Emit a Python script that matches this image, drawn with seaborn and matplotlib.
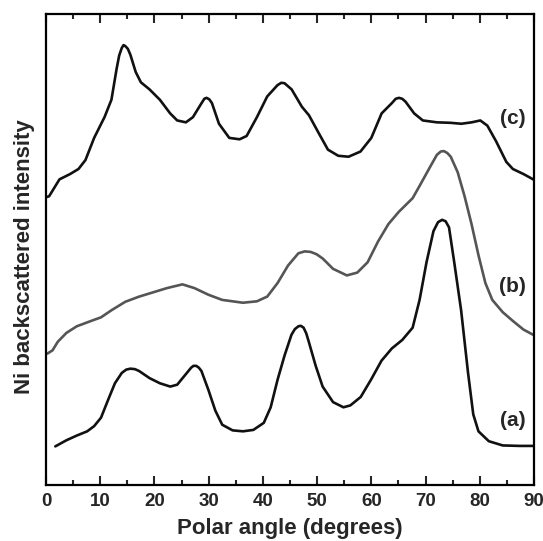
import seaborn as sns
import matplotlib.pyplot as plt
import pandas as pd
from matplotlib.ticker import MultipleLocator

# Curve (a)
angle_a = [1.72, 3.77, 5.68, 7.60, 8.88, 10.15, 11.43, 12.71, 13.98, 14.8, 15.58, 16.4, 17.18,
           19.09, 21.01, 22.92, 24.20, 25.48, 26.76, 27.2, 27.71, 28.2, 28.67, 29.95, 31.23,
           32.50, 34.42, 36.33, 38.25, 40.17, 41.44, 42.72, 44.00, 45.27, 45.9, 46.55, 47.0,
           47.51, 48.0, 48.47, 49.74, 51.02, 52.94, 54.85, 56.13, 58.05, 59.96, 61.88, 63.79,
           65.71, 67.62, 68.90, 70.18, 71.46, 72.3, 73.05, 73.7, 74.33, 75.29, 76.56, 77.84,
           78.80, 79.76, 81.67, 84.23, 87.42, 90.0]
int_a = [8.2, 9.5, 10.5, 11.4, 12.5, 14.3, 18.0, 21.6, 23.8, 24.5, 24.7, 24.6, 24.2,
         22.7, 21.6, 20.9, 21.3, 23.1, 24.9, 25.3, 25.3, 24.9, 24.2, 20.2, 15.8,
         12.8, 11.6, 11.4, 11.7, 13.2, 16.5, 22.4, 27.5, 31.9, 33.1, 33.7, 33.8,
         33.4, 32.2, 30.4, 25.3, 20.9, 17.6, 16.5, 16.9, 18.7, 22.4, 26.4, 29.0,
         30.8, 33.4, 39.3, 47.3, 53.9, 55.8, 56.3, 56.0, 54.7, 47.3, 37.1, 23.8,
         15.0, 11.4, 9.3, 8.4, 8.3, 8.3]

# Curve (b)
angle_b = [0.26, 1.21, 2.17, 3.77, 5.68, 8.24, 10.15, 12.07, 14.62, 17.18, 19.73, 22.29,
           25.16, 27.39, 29.95, 32.50, 36.33, 38.89, 40.80, 42.72, 44.64, 46.55, 47.7, 48.79,
           49.9, 51.02, 52.94, 55.49, 57.41, 59.32, 61.24, 63.15, 65.07, 67.62, 68.90, 70.82,
           72.09, 72.8, 73.37, 74.0, 74.65, 75.93, 77.20, 78.48, 79.76, 81.03, 82.31, 84.23,
           86.14, 88.06, 90.0]
int_b = [27.9, 28.6, 30.4, 32.3, 33.7, 34.8, 35.6, 37.1, 38.9, 40.0, 40.9, 41.8,
         42.6, 41.8, 40.4, 39.3, 38.7, 39.0, 40.0, 42.9, 46.6, 49.2, 49.6, 49.5,
         49.0, 48.1, 45.9, 44.5, 45.1, 47.3, 51.7, 55.4, 58.0, 60.9, 63.5, 67.5,
         70.1, 70.8, 70.9, 70.5, 69.7, 66.4, 61.3, 55.4, 48.8, 42.9, 39.3, 36.7,
         34.8, 33.0, 31.8]

# Curve (c)
angle_c = [0.0, 0.57, 1.53, 2.49, 4.41, 6.0, 7.28, 8.88, 10.79, 12.07, 13.03, 13.5, 13.98,
           14.3, 14.62, 15.1, 15.58, 16.54, 17.5, 19.09, 21.0, 22.9, 24.2, 25.8, 27.1, 28.7,
           29.2, 29.6, 30.1, 30.6, 31.9, 33.8, 35.7, 37.0, 38.9, 40.8, 42.7, 43.4, 44.0,
           45.3, 47.2, 48.5, 50.4, 52.0, 53.9, 55.8, 58.0, 60.0, 61.9, 63.8, 64.5, 65.1,
           65.7, 66.3, 67.9, 69.5, 72.1, 74.6, 76.6, 78.5, 80.1, 81.4, 83.0, 84.9, 86.1,
           88.1, 90.0]
int_c = [61.1, 61.3, 63.1, 64.9, 66.0, 67.1, 69.0, 73.7, 78.1, 81.8, 88.4, 91.2, 92.8,
         93.4, 93.2, 92.6, 91.3, 87.7, 85.5, 84.0, 81.8, 78.9, 77.4, 77.0, 78.1, 81.1,
         82.0, 82.2, 81.9, 81.1, 76.7, 73.7, 73.4, 74.1, 78.1, 82.5, 84.9, 85.4, 85.3,
         84.0, 80.3, 78.5, 74.5, 71.2, 69.9, 69.7, 70.8, 73.7, 78.9, 81.1, 82.0, 82.2,
         82.0, 81.4, 78.9, 77.4, 77.0, 76.9, 76.7, 77.0, 77.4, 76.3, 73.0, 68.6, 67.1,
         66.0, 64.8]

curve_names = ['(a)', '(b)', '(c)']
label_y = [13.6, 42.2, 77.8]

df = pd.concat([
    pd.DataFrame({'angle': angle_a, 'intensity': int_a, 'curve': '(a)'}),
    pd.DataFrame({'angle': angle_b, 'intensity': int_b, 'curve': '(b)'}),
    pd.DataFrame({'angle': angle_c, 'intensity': int_c, 'curve': '(c)'}),
])

sns.set_style('ticks')
plt.rcParams['font.family'] = ['Liberation Sans', 'DejaVu Sans']

fig = plt.figure(figsize=(5.43, 5.41), dpi=100)
ax = fig.add_axes([0.0847, 0.1035, 0.8987, 0.8706])

sns.lineplot(data=df, x='angle', y='intensity', hue='curve', estimator=None, sort=False,
             palette={'(a)': '#111111', '(b)': '#555555', '(c)': '#111111'},
             linewidth=1.9, legend=False, ax=ax)
for ln in ax.get_lines():
    ln.set_solid_joinstyle('round')

for name, ly in zip(curve_names, label_y):
    ax.text(86.1, ly, name, ha='center', va='center', fontsize=15, fontweight='bold')

ax.set_xlim(0, 90)
ax.set_ylim(0, 100)
ax.xaxis.set_major_locator(MultipleLocator(10))
ax.xaxis.set_minor_locator(MultipleLocator(5))
ax.set_yticks([])
ax.tick_params(axis='x', which='both', direction='in', top=True, bottom=True,
               width=1.5, labelsize=13.5, pad=6)
ax.tick_params(axis='x', which='major', length=6.5)
ax.tick_params(axis='x', which='minor', length=3.6)
for lab in ax.get_xticklabels():
    lab.set_fontweight('bold')
for sp in ax.spines.values():
    sp.set_linewidth(1.6)
    sp.set_color('black')

ax.set_xlabel('Polar angle (degrees)', fontsize=16, fontweight='bold', va='center')
ax.xaxis.set_label_coords(0.5, -0.093)
ax.set_ylabel('Ni backscattered intensity', fontsize=16, fontweight='bold', va='center')
ax.yaxis.set_label_coords(-0.045, 0.484)

plt.savefig('out.png', dpi=100)
